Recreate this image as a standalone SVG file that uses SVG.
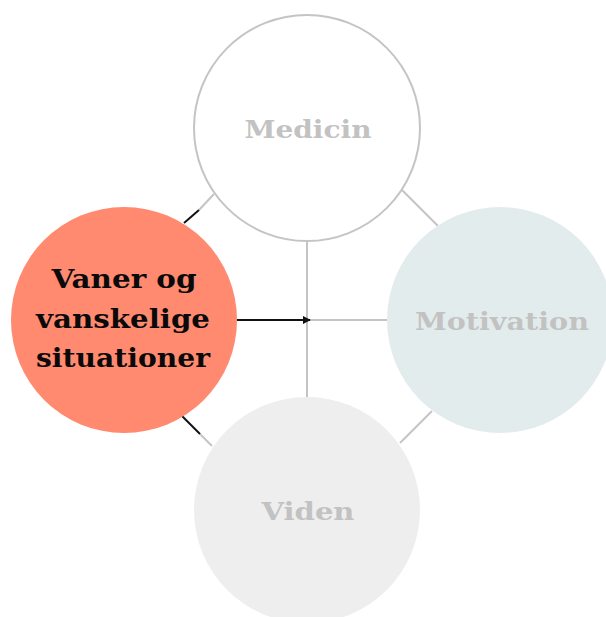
<svg xmlns="http://www.w3.org/2000/svg" width="606" height="617" viewBox="0 0 606 617">
<defs>
<style>
.gray{stroke:#c4c4c4;stroke-width:2;fill:none}
.blk{stroke:#111;stroke-width:2;fill:none}
.lbl{font-family:"DejaVu Serif",serif;font-weight:bold;text-anchor:middle}
.dim{fill:#c2c2c2;font-size:25px}
.hot{fill:#0a0a0a;font-size:26px}
</style>
<marker id="arr" viewBox="0 0 10 10" refX="9" refY="5" markerWidth="4" markerHeight="5" orient="auto" markerUnits="strokeWidth">
<path d="M0,0 L10,5 L0,10 z" fill="#111"/>
</marker>
</defs>
<rect width="606" height="617" fill="#ffffff"/>
<g id="connectors">
<line class="gray" x1="307" y1="241" x2="307" y2="397"/>
<line class="gray" x1="307" y1="320" x2="387" y2="320"/>
<line class="blk" x1="237" y1="320" x2="310" y2="320" marker-end="url(#arr)"/>
<line class="gray" x1="199" y1="210" x2="214" y2="194"/>
<line class="blk" x1="184" y1="223" x2="199" y2="210"/>
<line class="gray" x1="200" y1="434" x2="212" y2="446"/>
<line class="blk" x1="182" y1="416" x2="200" y2="434"/>
<line class="gray" x1="402" y1="190" x2="438" y2="226"/>
<line class="gray" x1="432" y1="411" x2="400" y2="443"/>
</g>
<g id="medicin">
<circle cx="307" cy="128" r="113" fill="#ffffff" stroke="#c4c4c4" stroke-width="2"/>
<text class="lbl dim" x="308" y="138" textLength="127" lengthAdjust="spacingAndGlyphs">Medicin</text>
</g>
<g id="motivation">
<circle cx="500" cy="320" r="113" fill="#e3ecec"/>
<text class="lbl dim" x="502" y="330" textLength="174" lengthAdjust="spacingAndGlyphs">Motivation</text>
</g>
<g id="viden">
<circle cx="307" cy="510" r="113" fill="#eeeeee"/>
<text class="lbl dim" x="308" y="520" textLength="93" lengthAdjust="spacingAndGlyphs">Viden</text>
</g>
<g id="vaner">
<circle cx="124" cy="320" r="113" fill="#ff8a70"/>
<text class="lbl hot" x="124" y="288" textLength="145" lengthAdjust="spacingAndGlyphs">Vaner og</text>
<text class="lbl hot" x="123" y="328" textLength="174" lengthAdjust="spacingAndGlyphs">vanskelige</text>
<text class="lbl hot" x="123" y="367" textLength="174" lengthAdjust="spacingAndGlyphs">situationer</text>
</g>
</svg>
